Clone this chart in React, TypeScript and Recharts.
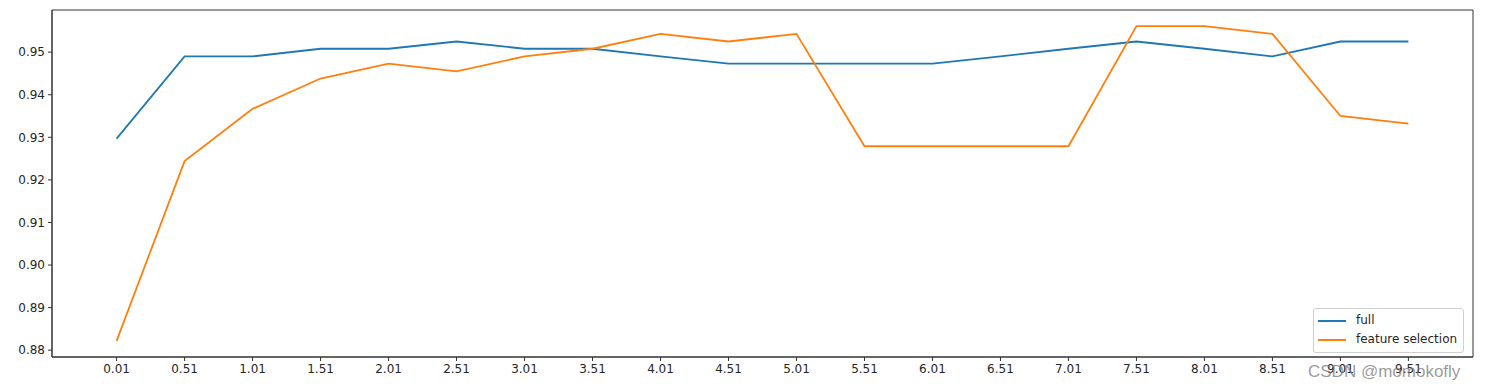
import React from "react";
import { LineChart, Line, XAxis, YAxis, ReferenceArea } from "recharts";

const xValues = [0.01, 0.51, 1.01, 1.51, 2.01, 2.51, 3.01, 3.51, 4.01, 4.51, 5.01, 5.51, 6.01, 6.51, 7.01, 7.51, 8.01, 8.51, 9.01, 9.51];
const fullScores = [0.9297, 0.949, 0.949, 0.9508, 0.9508, 0.9525, 0.9508, 0.9508, 0.949, 0.9473, 0.9473, 0.9473, 0.9473, 0.949, 0.9508, 0.9525, 0.9508, 0.949, 0.9525, 0.9525];
const fsScores = [0.8822, 0.9244, 0.9367, 0.9438, 0.9473, 0.9455, 0.949, 0.9508, 0.9543, 0.9525, 0.9543, 0.9279, 0.9279, 0.9279, 0.9279, 0.9561, 0.9561, 0.9543, 0.935, 0.9332];
const yTicks = [0.88, 0.89, 0.9, 0.91, 0.92, 0.93, 0.94, 0.95];
const seriesNames = ["full", "feature selection"];
const seriesColors = ["#1f77b4", "#ff7f0e"];

const data = xValues.map((x, i) => ({ x, full: fullScores[i], fs: fsScores[i] }));

const X_DOMAIN: [number, number] = [-0.465, 9.985];
const Y_DOMAIN: [number, number] = [0.8784, 0.9599];
const FONT = "'DejaVu Sans', sans-serif";
const tickStyle = { fontSize: 12, fill: "#262626", fontFamily: FONT };

const LegendBox = () => (
  <div
    style={{
      position: "absolute",
      left: 1305,
      top: 300,
      border: "1px solid #d0d0d0",
      borderRadius: 3,
      background: "rgba(255,255,255,0.85)",
      padding: "2px 6px 3px 4px",
      fontFamily: FONT,
      fontSize: 12,
      color: "#262626",
      lineHeight: "19px",
    }}
  >
    {seriesNames.map((n, i) => (
      <div key={n} style={{ display: "flex", alignItems: "center" }}>
        <div style={{ width: 28, height: 2, background: seriesColors[i], marginRight: 10 }} />
        <span>{n}</span>
      </div>
    ))}
  </div>
);

export default function App() {
  return (
    <div style={{ position: "relative", width: 1481, height: 384 }}>
      <LineChart width={1481} height={384} data={data} margin={{ top: 2, right: 16, left: 0, bottom: 5 }}>
        <XAxis
          dataKey="x"
          type="number"
          domain={X_DOMAIN}
          allowDataOverflow
          ticks={xValues}
          tickFormatter={(v: number) => v.toFixed(2)}
          tick={tickStyle}
          tickSize={4}
          tickMargin={3}
          height={30}
          stroke="#333"
          interval={0}
        />
        <YAxis
          type="number"
          domain={Y_DOMAIN}
          allowDataOverflow
          ticks={yTicks}
          tickFormatter={(v: number) => v.toFixed(2)}
          tick={tickStyle}
          tickSize={4}
          tickMargin={3}
          width={44}
          stroke="#333"
          interval={0}
        />
        <ReferenceArea
          x1={X_DOMAIN[0]}
          x2={X_DOMAIN[1]}
          y1={Y_DOMAIN[0]}
          y2={Y_DOMAIN[1]}
          fill="none"
          fillOpacity={0}
          stroke="#333"
          strokeWidth={1}
          ifOverflow="visible"
        />
        <Line
          dataKey="full"
          name={seriesNames[0]}
          stroke={seriesColors[0]}
          strokeWidth={1.8}
          dot={false}
          activeDot={false}
          isAnimationActive={false}
        />
        <Line
          dataKey="fs"
          name={seriesNames[1]}
          stroke={seriesColors[1]}
          strokeWidth={1.8}
          dot={false}
          activeDot={false}
          isAnimationActive={false}
        />
      </LineChart>
      <LegendBox />
      <div
        style={{
          position: "absolute",
          left: 1300,
          top: 354,
          fontFamily: "'Liberation Sans', Arial, sans-serif",
          fontSize: 17,
          color: "rgba(120,120,120,0.75)",
          whiteSpace: "nowrap",
          pointerEvents: "none",
        }}
      >
        CSDN @momokofly
      </div>
    </div>
  );
}
